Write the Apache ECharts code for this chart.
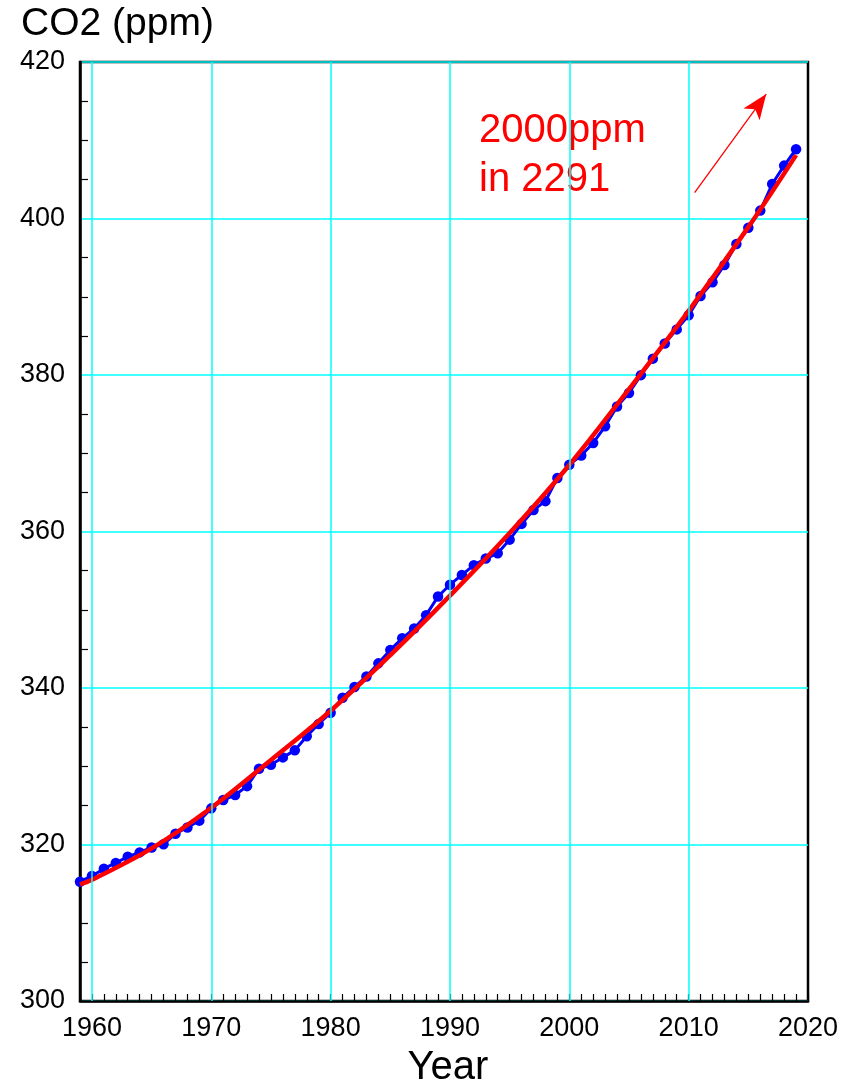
<!DOCTYPE html>
<html>
<head>
<meta charset="utf-8">
<title>CO2 (ppm)</title>
<script src="https://cdn.jsdelivr.net/npm/echarts@6/dist/echarts.min.js"></script>
<style>
  html, body { margin: 0; padding: 0; background: #ffffff; }
  #chart { width: 861px; height: 1084px; }
</style>
</head>
<body>
<div id="chart"></div>
<script>
// Annual mean CO2 concentration, one point per year
var years = [
  1959, 1960, 1961, 1962, 1963, 1964, 1965, 1966, 1967, 1968,
  1969, 1970, 1971, 1972, 1973, 1974, 1975, 1976, 1977, 1978,
  1979, 1980, 1981, 1982, 1983, 1984, 1985, 1986, 1987, 1988,
  1989, 1990, 1991, 1992, 1993, 1994, 1995, 1996, 1997, 1998,
  1999, 2000, 2001, 2002, 2003, 2004, 2005, 2006, 2007, 2008,
  2009, 2010, 2011, 2012, 2013, 2014, 2015, 2016, 2017, 2018,
  2019
];
var co2 = [
  315.25, 315.98, 316.91, 317.64, 318.45, 318.99, 319.62, 320.04, 321.37, 322.18,
  323.05, 324.62, 325.68, 326.32, 327.46, 329.68, 330.19, 331.13, 332.03, 333.84,
  335.41, 336.84, 338.76, 340.12, 341.48, 343.15, 344.87, 346.35, 347.61, 349.31,
  351.69, 353.20, 354.45, 355.70, 356.54, 357.21, 358.96, 360.97, 362.74, 363.88,
  366.84, 368.54, 369.71, 371.32, 373.45, 375.98, 377.70, 379.98, 382.09, 384.02,
  385.83, 387.64, 390.10, 391.85, 394.06, 396.74, 398.81, 401.01, 404.41, 406.76,
  408.85
];

// Exponential trend curve, sampled along the plot
var trendYears  = [1959, 1960, 1965, 1970, 1975, 1980, 1985, 1990, 1995, 2000, 2005, 2010, 2015, 2019];
var trendValues = [314.9, 315.5, 319.5, 324.7, 330.8, 337.1, 344.2, 351.8, 359.8, 368.5, 378.2, 388.2, 398.9, 408.1];

// Axis tick values
var yearLabels = [1960, 1970, 1980, 1990, 2000, 2010, 2020];
var co2Labels  = [300, 320, 340, 360, 380, 400, 420];

// Projection note and its arrow (year, ppm)
var noteLines = ['2000ppm', 'in 2291'];
var arrowFrom = [2010.5, 403.3];
var arrowTo   = [2016.5, 415.9];

var FONT = '"Liberation Sans", Arial, Helvetica, sans-serif';

function zip(xs, ys) {
  return xs.map(function (x, i) { return [x, ys[i]]; });
}

var chart = echarts.init(document.getElementById('chart'), null, { renderer: 'canvas' });

var xMin = years[0];
var xMax = yearLabels[yearLabels.length - 1];
var yMin = co2Labels[0];
var yMax = co2Labels[co2Labels.length - 1];
var yStep = co2Labels[1] - co2Labels[0];

chart.setOption({
  animation: false,
  backgroundColor: '#ffffff',
  grid: {
    left: 80, right: 53, top: 62, bottom: 83,
    show: true,
    borderColor: '#000000',
    borderWidth: 2.5,
    backgroundColor: 'transparent',
    outerBoundsMode: 'none',
    containLabel: false
  },
  xAxis: {
    type: 'value',
    min: xMin,
    max: xMax,
    interval: 1,
    axisLine: { show: true, onZero: false, lineStyle: { color: '#000000', width: 2.5 } },
    axisTick: { show: true, inside: true, length: 7, lineStyle: { color: '#000000', width: 1.2 } },
    axisLabel: {
      show: true,
      margin: 14,
      color: '#000000',
      fontFamily: FONT,
      fontSize: 27,
      formatter: function (v) { return yearLabels.indexOf(v) >= 0 ? String(v) : ''; }
    },
    splitLine: { show: false }
  },
  yAxis: {
    type: 'value',
    min: yMin,
    max: yMax,
    interval: yStep,
    axisLine: { show: true, onZero: false, lineStyle: { color: '#000000', width: 2.5 } },
    axisTick: { show: false, inside: true },
    minorTick: { show: true, splitNumber: 4, length: 8, lineStyle: { color: '#000000', width: 1.2 } },
    axisLabel: {
      show: true,
      margin: 15,
      color: '#000000',
      fontFamily: FONT,
      fontSize: 27
    },
    splitLine: { show: true, lineStyle: { color: '#00ffff', width: 1.5, type: 'solid' } },
    minorSplitLine: { show: false }
  },
  series: [
    {
      // vertical grid lines at the labelled years
      type: 'line',
      data: [],
      z: 1,
      silent: true,
      markLine: {
        silent: true,
        symbol: ['none', 'none'],
        label: { show: false },
        lineStyle: { color: '#00ffff', width: 1.5, type: 'solid' },
        emphasis: { disabled: true },
        data: yearLabels.slice(0, -1).map(function (y) { return { xAxis: y }; })
      }
    },
    {
      name: 'CO2',
      type: 'line',
      z: 3,
      data: zip(years, co2),
      symbol: 'circle',
      symbolSize: 10.5,
      showSymbol: true,
      lineStyle: { color: '#0000ff', width: 3 },
      itemStyle: { color: '#0000ff', borderWidth: 0 },
      emphasis: { disabled: true },
      silent: true
    },
    {
      name: 'trend',
      type: 'line',
      z: 4,
      data: zip(trendYears, trendValues),
      smooth: 0.4,
      symbol: 'none',
      lineStyle: { color: '#ff0000', width: 4.5 },
      emphasis: { disabled: true },
      silent: true,
      markLine: {
        silent: true,
        symbol: ['none', 'arrow'],
        symbolSize: [15, 25],
        label: { show: false },
        lineStyle: { color: '#ff0000', width: 1.3, type: 'solid' },
        emphasis: { disabled: true },
        data: [[{ coord: arrowFrom }, { coord: arrowTo }]]
      }
    }
  ],
  graphic: [
    {
      type: 'text',
      x: 21, y: 24,
      silent: true,
      style: { text: 'CO2 (ppm)', font: '39px ' + FONT, fill: '#000000', verticalAlign: 'middle', align: 'left' }
    },
    {
      type: 'text',
      x: 448, y: 1068,
      silent: true,
      style: { text: 'Year', font: '40px ' + FONT, fill: '#000000', verticalAlign: 'middle', align: 'center' }
    },
    {
      type: 'text',
      x: 479, y: 131,
      silent: true,
      style: { text: noteLines[0], font: '40px ' + FONT, fill: '#ff0000', verticalAlign: 'middle', align: 'left' }
    },
    {
      type: 'text',
      x: 479, y: 180,
      silent: true,
      style: { text: noteLines[1], font: '40px ' + FONT, fill: '#ff0000', verticalAlign: 'middle', align: 'left' }
    }
  ]
});
</script>
</body>
</html>
